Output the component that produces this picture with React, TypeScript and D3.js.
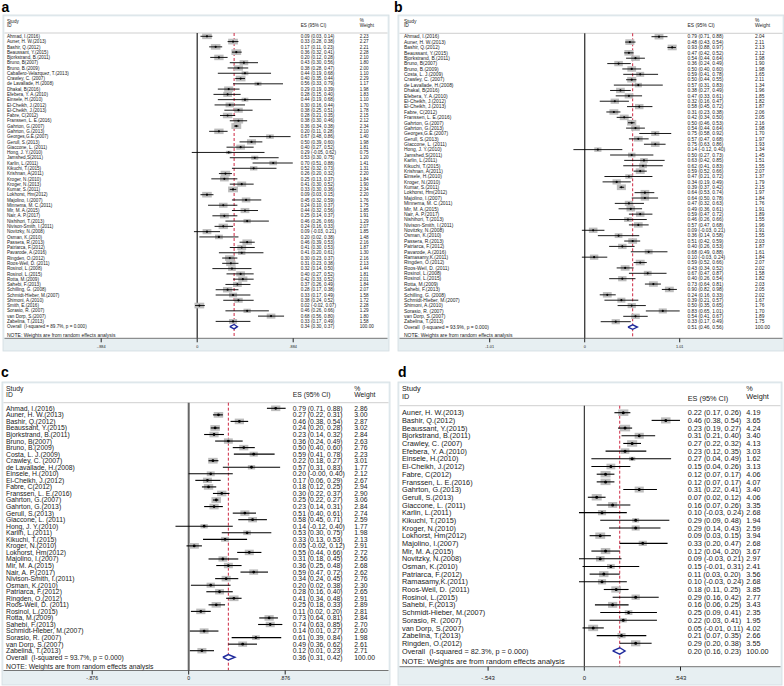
import React from "react";
import * as d3 from "d3";

// ---------- Panel a ----------
const namesA = ["Ahmad, I.(2016)","Auner, H. W.(2013)","Bashir, Q.(2012)","Beaussant, Y.(2015)","Bjorkstrand, B.(2011)","Bruno, B(2007)","Bruno, B.(2009)","Caballero-Velazquez, T.(2013)","Crawley, C. (2007)","de Lavallade, H.(2008)","Dhakal, B(2016)","Efebera, Y. A.(2010)","Einsele, H.(2010)","El-Cheikh, J.(2012)","El-Cheikh, J.(2013)","Fabre, C(2012)","Franssen, L. E.(2016)","Gahrton, G.(2007)","Gahrton, G.(2013)","Georges,G.E.(2007)","Gerull, S.(2013)","Giaccone, L. (2011)","Hong, J. Y.(2010)","Jamshed,S(2011)","Karlin, L.(2011)","Kikuchi, T.(2015)","Krishnan, A(2011)","Kroger, N.(2010)","Kroger, N.(2013)","Kumar, S.(2011)","Lokhorst, Hm(2012)","Majolino, I.(2007)","Minnema, M. C.(2011)","Mir, M. A.(2015)","Nair, A. P.(2017)","Nishihori, T.(2013)","Nivison-Smith, I.(2011)","Novitzky, N.(2008)","Osman, K.(2010)","Passera, R.(2013)","Patriarca, F.(2012)","Pavarode, A.(2016)","Ringden, O.(2012)","Roos-Weil, D. (2011)","Rosinol, L.(2008)","Rosinol, L.(2015)","Rotta, M.(2009)","Sahebi, F.(2013)","Schilling, G. (2008)","Schmidt-Hieber, M.(2007)","Shimoni, A.(2010)","Smith, E.(2016)","Sorasio, R. (2007)","van Dorp, S.(2007)","Zabelina, T.(2013)"];
const esA = [0.09,0.33,0.17,0.36,0.20,0.43,0.38,0.44,0.40,0.56,0.29,0.28,0.44,0.30,0.38,0.28,0.38,0.36,0.20,0.67,0.50,0.40,0.29,0.53,0.70,0.52,0.26,0.25,0.41,0.33,0.09,0.45,0.24,0.44,0.25,0.46,0.24,0.09,0.20,0.46,0.41,0.41,0.30,0.31,0.32,0.40,0.42,0.37,0.28,0.33,0.38,0.02,0.46,0.68,0.33];
const loA = [0.03,0.28,0.11,0.32,0.12,0.30,0.28,0.19,0.35,0.33,0.19,0.15,0.19,0.16,0.25,0.21,0.30,0.34,0.11,0.48,0.39,0.27,-0.05,0.30,0.51,0.32,0.20,0.13,0.30,0.30,0.03,0.32,0.10,0.32,0.14,0.26,0.16,-0.03,0.02,0.39,0.30,0.20,0.23,0.23,0.14,0.27,0.33,0.26,0.17,0.17,0.24,-0.02,0.26,0.56,0.17];
const hiA = [0.14,0.38,0.23,0.41,0.28,0.56,0.47,0.68,0.44,0.79,0.39,0.40,0.68,0.44,0.51,0.35,0.46,0.38,0.28,0.86,0.60,0.52,0.62,0.75,0.88,0.73,0.32,0.37,0.52,0.36,0.15,0.59,0.37,0.56,0.37,0.66,0.33,0.21,0.38,0.53,0.53,0.61,0.37,0.38,0.50,0.52,0.52,0.49,0.38,0.49,0.52,0.07,0.66,0.80,0.49];
const wtA = [2.23,2.27,2.21,2.28,2.10,1.80,2.00,1.10,2.29,1.17,1.98,1.83,1.10,1.70,1.78,2.15,2.12,2.34,2.10,1.40,1.98,1.81,0.75,1.20,1.41,1.31,2.20,1.84,1.90,2.34,2.20,1.76,1.75,1.85,1.91,1.29,2.07,1.85,1.48,2.16,1.87,1.30,2.16,2.13,1.44,1.81,2.01,1.84,2.07,1.58,1.72,2.28,1.29,1.80,1.58];
const overallA = [0.34, 0.30, 0.37];
const i2A = "89.7%";
const ticksA = [-0.884, 0, 0.884];
const tickLabelsA = ["-.884", "0", ".884"];

// ---------- Panel b ----------
const namesB = ["Ahmad, I.(2016)","Auner, H. W.(2013)","Bashir, Q.(2012)","Beaussant, Y.(2015)","Bjorkstrand, B.(2011)","Bruno, B(2007)","Bruno, B.(2009)","Costa, L. J.(2009)","Crawley, C. (2007)","de Lavallade, H.(2008)","Dhakal, B(2016)","Efebera, Y. A.(2010)","El-Cheikh, J.(2012)","El-Cheikh, J.(2013)","Fabre, C(2012)","Franssen, L. E.(2016)","Gahrton, G.(2007)","Gahrton, G.(2013)","Georges,G.E.(2007)","Gerull, S.(2013)","Giaccone, L. (2011)","Hong, J. Y.(2010)","Jamshed,S(2011)","Karlin, L.(2011)","Kikuchi, T.(2015)","Krishnan, A(2011)","Einsele, H.(2010)","Kroger, N.(2010)","Kumar, S.(2011)","Lokhorst, Hm(2012)","Majolino, I.(2007)","Minnema, M. C.(2011)","Mir, M. A.(2015)","Nair, A. P.(2017)","Nishihori, T.(2013)","Nivison-Smith, I.(2011)","Novitzky, N.(2008)","Osman, K.(2010)","Passera, R.(2013)","Patriarca, F.(2012)","Pavarode, A.(2016)","Ramasamy,K.(2011)","Ringden, O.(2012)","Roos-Weil, D. (2011)","Rosinol, L.(2008)","Rosinol, L.(2015)","Rotta, M.(2009)","Sahebi, F.(2013)","Schilling, G. (2008)","Schmidt-Hieber, M.(2007)","Shimoni, A.(2010)","Sorasio, R. (2007)","van Dorp, S.(2007)","Zabelina, T.(2013)"];
const esB = [0.79,0.48,0.93,0.47,0.54,0.36,0.50,0.59,0.50,0.57,0.38,0.47,0.32,0.58,0.31,0.42,0.50,0.54,0.75,0.57,0.75,0.14,0.50,0.63,0.62,0.59,0.47,0.34,0.39,0.64,0.64,0.47,0.49,0.59,0.46,0.57,0.09,0.36,0.51,0.40,0.68,0.10,0.59,0.43,0.67,0.40,0.73,0.90,0.24,0.39,0.50,0.83,0.54,0.33];
const loB = [0.71,0.43,0.88,0.42,0.44,0.24,0.40,0.41,0.44,0.31,0.27,0.33,0.16,0.45,0.23,0.34,0.46,0.44,0.58,0.47,0.63,-0.12,0.27,0.42,0.41,0.52,0.21,0.19,0.37,0.53,0.50,0.32,0.36,0.47,0.26,0.47,-0.03,0.14,0.42,0.26,0.49,-0.03,0.52,0.34,0.47,0.26,0.64,0.82,0.16,0.21,0.35,0.65,0.41,0.17];
const hiB = [0.88,0.54,0.97,0.52,0.64,0.49,0.60,0.78,0.55,0.83,0.49,0.61,0.47,0.72,0.38,0.50,0.53,0.64,0.92,0.68,0.86,0.40,0.73,0.85,0.83,0.66,0.72,0.49,0.42,0.74,0.78,0.63,0.61,0.72,0.66,0.68,0.21,0.58,0.59,0.53,0.88,0.24,0.66,0.52,0.87,0.54,0.81,0.98,0.33,0.57,0.65,1.01,0.67,0.49];
const wtB = [2.04,2.11,2.13,2.12,1.98,1.90,1.98,1.65,2.11,1.34,1.96,1.85,1.82,1.87,2.06,2.05,2.16,1.98,1.70,1.97,1.93,1.34,1.45,1.51,1.55,2.07,1.37,1.79,2.15,1.97,1.84,1.76,1.91,1.89,1.55,1.96,1.91,1.55,2.03,1.87,1.61,1.84,2.07,2.02,1.58,1.82,2.03,2.05,2.02,1.67,1.76,1.70,1.89,1.75];
const overallB = [0.51, 0.46, 0.56];
const i2B = "93.9%";
const ticksB = [-1.01, 0, 1.01];
const tickLabelsB = ["-1.01", "0", "1.01"];

// ---------- Panel c ----------
const namesC = ["Ahmad, I.(2016)","Auner, H. W.(2013)","Bashir, Q.(2012)","Beaussant, Y.(2015)","Bjorkstrand, B.(2011)","Bruno, B(2007)","Bruno, B.(2009)","Costa, L. J.(2009)","Crawley, C. (2007)","de Lavallade, H.(2008)","Einsele, H.(2010)","El-Cheikh, J.(2012)","Fabre, C(2012)","Franssen, L. E.(2016)","Gahrton, G.(2007)","Gahrton, G.(2013)","Gerull, S.(2013)","Giaccone, L. (2011)","Hong, J. Y.(2010)","Karlin, L.(2011)","Kikuchi, T.(2015)","Kroger, N.(2010)","Lokhorst, Hm(2012)","Majolino, I.(2007)","Mir, M. A.(2015)","Nair, A. P.(2017)","Nivison-Smith, I.(2011)","Osman, K.(2010)","Patriarca, F.(2012)","Ringden, O.(2012)","Roos-Weil, D. (2011)","Rosinol, L.(2015)","Rotta, M.(2009)","Sahebi, F.(2013)","Schmidt-Hieber, M.(2007)","Sorasio, R. (2007)","van Dorp, S.(2007)","Zabelina, T.(2013)"];
const esC = [0.79,0.27,0.46,0.24,0.23,0.36,0.50,0.59,0.22,0.57,0.20,0.17,0.18,0.30,0.25,0.23,0.51,0.58,0.14,0.53,0.33,0.05,0.55,0.31,0.36,0.59,0.34,0.20,0.28,0.41,0.25,0.11,0.73,0.74,0.14,0.61,0.49,0.12];
const loC = [0.71,0.22,0.38,0.20,0.14,0.24,0.40,0.41,0.18,0.31,-0.001,0.06,0.12,0.22,0.22,0.14,0.40,0.45,-0.12,0.30,0.13,-0.02,0.44,0.18,0.25,0.47,0.24,0.02,0.16,0.34,0.18,0.02,0.64,0.63,0.01,0.39,0.36,0.01];
const hiC = [0.88,0.31,0.54,0.28,0.32,0.49,0.60,0.78,0.27,0.83,0.40,0.29,0.25,0.37,0.27,0.31,0.61,0.71,0.40,0.75,0.53,0.12,0.66,0.45,0.48,0.72,0.45,0.38,0.40,0.48,0.33,0.20,0.81,0.85,0.27,0.84,0.62,0.23];
const wtC = [2.86,3.00,2.87,3.02,2.84,2.63,2.76,2.23,3.01,1.77,2.12,2.67,2.94,2.90,3.06,2.84,2.74,2.59,1.77,1.98,2.13,2.91,2.72,2.56,2.68,2.62,2.76,2.30,2.65,2.91,2.89,2.81,2.84,2.70,2.60,1.98,2.61,2.71];
const overallC = [0.36, 0.31, 0.42];
const i2C = "93.7%";
const ticksC = [-0.876, 0, 0.876];
const tickLabelsC = ["-.876", "0", ".876"];

// ---------- Panel d ----------
const namesD = ["Auner, H. W.(2013)","Bashir, Q.(2012)","Beaussant, Y.(2015)","Bjorkstrand, B.(2011)","Crawley, C. (2007)","Efebera, Y. A.(2010)","Einsele, H.(2010)","El-Cheikh, J.(2012)","Fabre, C(2012)","Franssen, L. E.(2016)","Gahrton, G.(2013)","Gerull, S.(2013)","Giaccone, L. (2011)","Karlin, L.(2011)","Kikuchi, T.(2015)","Kroger, N.(2010)","Lokhorst, Hm(2012)","Majolino, I.(2007)","Mir, M. A.(2015)","Novitzky, N.(2008)","Osman, K.(2010)","Patriarca, F.(2012)","Ramasamy,K.(2011)","Roos-Weil, D. (2011)","Rosinol, L.(2015)","Sahebi, F.(2013)","Schmidt-Hieber, M.(2007)","Sorasio, R. (2007)","van Dorp, S.(2007)","Zabelina, T.(2013)","Ringden, O.(2012)"];
const esD = [0.22,0.46,0.23,0.31,0.27,0.23,0.27,0.15,0.12,0.12,0.31,0.07,0.16,0.10,0.29,0.29,0.09,0.33,0.12,0.09,0.15,0.11,0.10,0.18,0.29,0.16,0.25,0.22,0.05,0.21,0.29];
const loD = [0.17,0.38,0.19,0.21,0.22,0.12,0.04,0.04,0.07,0.07,0.22,0.02,0.07,-0.03,0.09,0.14,0.03,0.20,0.04,-0.03,-0.01,0.03,-0.03,0.11,0.16,0.06,0.09,0.03,-0.01,0.07,0.20];
const hiD = [0.26,0.54,0.27,0.40,0.32,0.35,0.49,0.26,0.17,0.17,0.41,0.12,0.26,0.24,0.48,0.43,0.15,0.47,0.20,0.21,0.31,0.20,0.24,0.25,0.42,0.25,0.41,0.41,0.11,0.35,0.38];
const wtD = [4.19,3.65,4.24,3.40,4.13,3.03,1.62,3.13,4.06,4.07,3.40,4.06,3.35,2.68,1.94,2.59,3.94,2.68,3.67,2.97,2.41,3.56,2.68,3.85,2.77,3.43,2.35,1.95,4.02,2.66,3.55];
const overallD = [0.20, 0.16, 0.23];
const i2D = "82.3%";
const ticksD = [-0.543, 0, 0.543];
const tickLabelsD = ["-.543", "0", ".543"];

const FONT = '"Liberation Sans", Arial, Helvetica, sans-serif';

type Cfg = {
  label: string; labelX: number; labelY: number;
  x0: number; x1: number; y0: number; y1: number;
  nameX: number; esX: number; wX: number;
  zeroX: number; tickPx: number;
  row0: number; rowN: number;
  headerLine: number; studyY: number; idY: number; pctY: number; weightY: number; esHeadY: number;
  plotBottom: number; noteY: number; tickLabelY: number;
  fs: number; noteFs: number; tickFs: number;
  boxH: number; boxAspect: number; ciW: number; dotR: number;
  zeroColor: string; zeroW: number;
};

const cfgA: Cfg = {
  label: "a", labelX: 1.5, labelY: 11.5,
  x0: 3, x1: 389, y0: 15, y1: 351,
  nameX: 7, esX: 300.7, wX: 359.7,
  zeroX: 197.2, tickPx: 96,
  row0: 36.3, rowN: 321.4,
  headerLine: 33, studyY: 22.7, idY: 27.4, pctY: 22.4, weightY: 27.4, esHeadY: 27.4,
  plotBottom: 338.3, noteY: 337, tickLabelY: 347.6,
  fs: 4.6, noteFs: 5.0, tickFs: 3.8,
  boxH: 5.8, boxAspect: 1.7, ciW: 0.9, dotR: 1.1,
  zeroColor: "#222", zeroW: 1.2,
};
const cfgB: Cfg = {
  label: "b", labelX: 394, labelY: 11.5,
  x0: 398, x1: 784, y0: 15, y1: 351,
  nameX: 404, esX: 687.5, wX: 755,
  zeroX: 584.7, tickPx: 95,
  row0: 36.7, rowN: 321.7,
  headerLine: 33.3, studyY: 22.7, idY: 27.4, pctY: 22.4, weightY: 27.4, esHeadY: 27.4,
  plotBottom: 338.3, noteY: 337.3, tickLabelY: 347.6,
  fs: 4.9, noteFs: 5.0, tickFs: 3.8,
  boxH: 5.7, boxAspect: 1.6, ciW: 0.9, dotR: 1.1,
  zeroColor: "#444", zeroW: 1.4,
};
const cfgC: Cfg = {
  label: "c", labelX: 1, labelY: 377.4,
  x0: 2, x1: 390, y0: 382, y1: 685,
  nameX: 6, esX: 292.7, wX: 354.3,
  zeroX: 188.7, tickPx: 96.5,
  row0: 408.3, rowN: 650.7,
  headerLine: 402.7, studyY: 390.6, idY: 397.2, pctY: 390.5, weightY: 397, esHeadY: 397,
  plotBottom: 670.5, noteY: 669.3, tickLabelY: 680.3,
  fs: 6.8, noteFs: 6.8, tickFs: 5.2,
  boxH: 5.8, boxAspect: 1.65, ciW: 1.1, dotR: 1.4,
  zeroColor: "#666", zeroW: 2,
};
const cfgD: Cfg = {
  label: "d", labelX: 398, labelY: 377.4,
  x0: 398, x1: 782, y0: 382, y1: 685,
  nameX: 402, esX: 687.7, wX: 746.3,
  zeroX: 584.3, tickPx: 96.2,
  row0: 412.7, rowN: 643.3,
  headerLine: 405.7, studyY: 390.8, idY: 398.6, pctY: 390.7, weightY: 398.8, esHeadY: 400.5,
  plotBottom: 666.7, noteY: 664.2, tickLabelY: 680,
  fs: 7.3, noteFs: 7.5, tickFs: 6.0,
  boxH: 6.6, boxAspect: 1.55, ciW: 1.1, dotR: 1.5,
  zeroColor: "#111", zeroW: 1,
};

const f2 = (v: number) => v.toFixed(2);

function Panel(props: {
  cfg: Cfg; names: string[]; es: number[]; lo: number[]; hi: number[]; wt: number[];
  overall: number[]; i2: string; ticks: number[]; tickLabels: string[];
}) {
  const { cfg, names, es, lo, hi, wt, overall, i2, ticks, tickLabels } = props;
  const n = names.length;
  const x = d3.scaleLinear().domain([0, ticks[2]]).range([cfg.zeroX, cfg.zeroX + cfg.tickPx]);
  const y = d3.scaleLinear().domain([0, n - 1]).range([cfg.row0, cfg.rowN]);
  const step = (cfg.rowN - cfg.row0) / (n - 1);
  const box = d3.scaleSqrt().domain([0, d3.max(wt) as number]).range([0, cfg.boxH]);
  const base = (yc: number) => yc + cfg.fs * 0.36;
  const oy = y(n);
  const dh = step * 0.42;
  const diamond = d3.line<[number, number]>()([
    [x(overall[1]), oy], [x(overall[0]), oy - dh], [x(overall[2]), oy], [x(overall[0]), oy + dh], [x(overall[1]), oy],
  ]) as string;
  const txt = { fontFamily: FONT, fill: "#1a1a1a" } as React.CSSProperties;
  return (
    <g>
      <text x={cfg.labelX} y={cfg.labelY} style={{ fontFamily: FONT, fontWeight: 700, fontSize: 14, fill: "#000" }}>{cfg.label}</text>
      <rect x={cfg.x0} y={cfg.y0} width={cfg.x1 - cfg.x0} height={cfg.y1 - cfg.y0} fill="#e7eff2" stroke="#d3dde1" strokeWidth={0.8} />
      <rect x={cfg.x0 + 1.5} y={cfg.y0 + 1.5} width={cfg.x1 - cfg.x0 - 3} height={cfg.plotBottom - cfg.y0 - 1.5} fill="#fff" />
      {/* header */}
      <text x={cfg.nameX} y={cfg.studyY} style={{ ...txt, fontSize: cfg.fs }}>Study</text>
      <text x={cfg.nameX} y={cfg.idY} style={{ ...txt, fontSize: cfg.fs }}>ID</text>
      <text x={cfg.esX} y={cfg.esHeadY} style={{ ...txt, fontSize: cfg.fs }}>ES (95% CI)</text>
      <text x={cfg.wX} y={cfg.pctY} style={{ ...txt, fontSize: cfg.fs }}>%</text>
      <text x={cfg.wX} y={cfg.weightY} style={{ ...txt, fontSize: cfg.fs }}>Weight</text>
      <line x1={cfg.x0 + 1.5} x2={cfg.x1 - 1.5} y1={cfg.headerLine} y2={cfg.headerLine} stroke="#c9c9c9" strokeWidth={0.9} />
      {/* reference lines */}
      <line x1={x(0)} x2={x(0)} y1={cfg.headerLine} y2={cfg.plotBottom} stroke={cfg.zeroColor} strokeWidth={cfg.zeroW} />
      <line x1={x(overall[0])} x2={x(overall[0])} y1={cfg.headerLine} y2={cfg.plotBottom} stroke="#c8102e" strokeWidth={0.9} strokeDasharray="3,2" />
      {/* studies */}
      {names.map((nm, i) => {
        const yc = y(i);
        const h = box(wt[i]);
        const w = h * cfg.boxAspect;
        return (
          <g key={i}>
            <rect x={x(es[i]) - w / 2} y={yc - h / 2} width={w} height={h} fill="#bdbdbd" />
            <line x1={x(lo[i])} x2={x(hi[i])} y1={yc} y2={yc} stroke="#000" strokeWidth={cfg.ciW} />
            <circle cx={x(es[i])} cy={yc} r={cfg.dotR} fill="#000" />
            <text x={cfg.nameX} y={base(yc)} style={{ ...txt, fontSize: cfg.fs }}>{nm}</text>
            <text x={cfg.esX} y={base(yc)} style={{ ...txt, fontSize: cfg.fs }}>{`${f2(es[i])} (${f2(lo[i])}, ${f2(hi[i])})`}</text>
            <text x={cfg.wX} y={base(yc)} style={{ ...txt, fontSize: cfg.fs }}>{f2(wt[i])}</text>
          </g>
        );
      })}
      {/* overall */}
      <path d={diamond} fill="#fff" stroke="#1f2a9c" strokeWidth={1.4} />
      <text x={cfg.nameX} y={base(oy)} style={{ ...txt, fontSize: cfg.fs, whiteSpace: "pre" }}>{`Overall  (I-squared = ${i2}, p = 0.000)`}</text>
      <text x={cfg.esX} y={base(oy)} style={{ ...txt, fontSize: cfg.fs }}>{`${f2(overall[0])} (${f2(overall[1])}, ${f2(overall[2])})`}</text>
      <text x={cfg.wX} y={base(oy)} style={{ ...txt, fontSize: cfg.fs }}>100.00</text>
      <text x={cfg.nameX} y={cfg.noteY} style={{ ...txt, fontSize: cfg.noteFs }}>NOTE: Weights are from random effects analysis</text>
      {/* axis */}
      <line x1={cfg.x0 + 1.5} x2={cfg.x1 - 1.5} y1={cfg.plotBottom} y2={cfg.plotBottom} stroke="#666" strokeWidth={0.9} />
      {ticks.map((t, i) => (
        <g key={i}>
          <line x1={x(t)} x2={x(t)} y1={cfg.plotBottom} y2={cfg.plotBottom + 4} stroke="#222" strokeWidth={1} />
          <text x={x(t)} y={cfg.tickLabelY} textAnchor="middle" style={{ ...txt, fontSize: cfg.tickFs }}>{tickLabels[i]}</text>
        </g>
      ))}
    </g>
  );
}

export default function App() {
  return (
    <svg width={784} height={686} viewBox="0 0 784 686" style={{ position: "absolute", left: 0, top: 0, background: "#fff" }}>
      <rect x={0} y={0} width={784} height={686} fill="#fff" />
      <Panel cfg={cfgA} names={namesA} es={esA} lo={loA} hi={hiA} wt={wtA} overall={overallA} i2={i2A} ticks={ticksA} tickLabels={tickLabelsA} />
      <Panel cfg={cfgB} names={namesB} es={esB} lo={loB} hi={hiB} wt={wtB} overall={overallB} i2={i2B} ticks={ticksB} tickLabels={tickLabelsB} />
      <Panel cfg={cfgC} names={namesC} es={esC} lo={loC} hi={hiC} wt={wtC} overall={overallC} i2={i2C} ticks={ticksC} tickLabels={tickLabelsC} />
      <Panel cfg={cfgD} names={namesD} es={esD} lo={loD} hi={hiD} wt={wtD} overall={overallD} i2={i2D} ticks={ticksD} tickLabels={tickLabelsD} />
    </svg>
  );
}
